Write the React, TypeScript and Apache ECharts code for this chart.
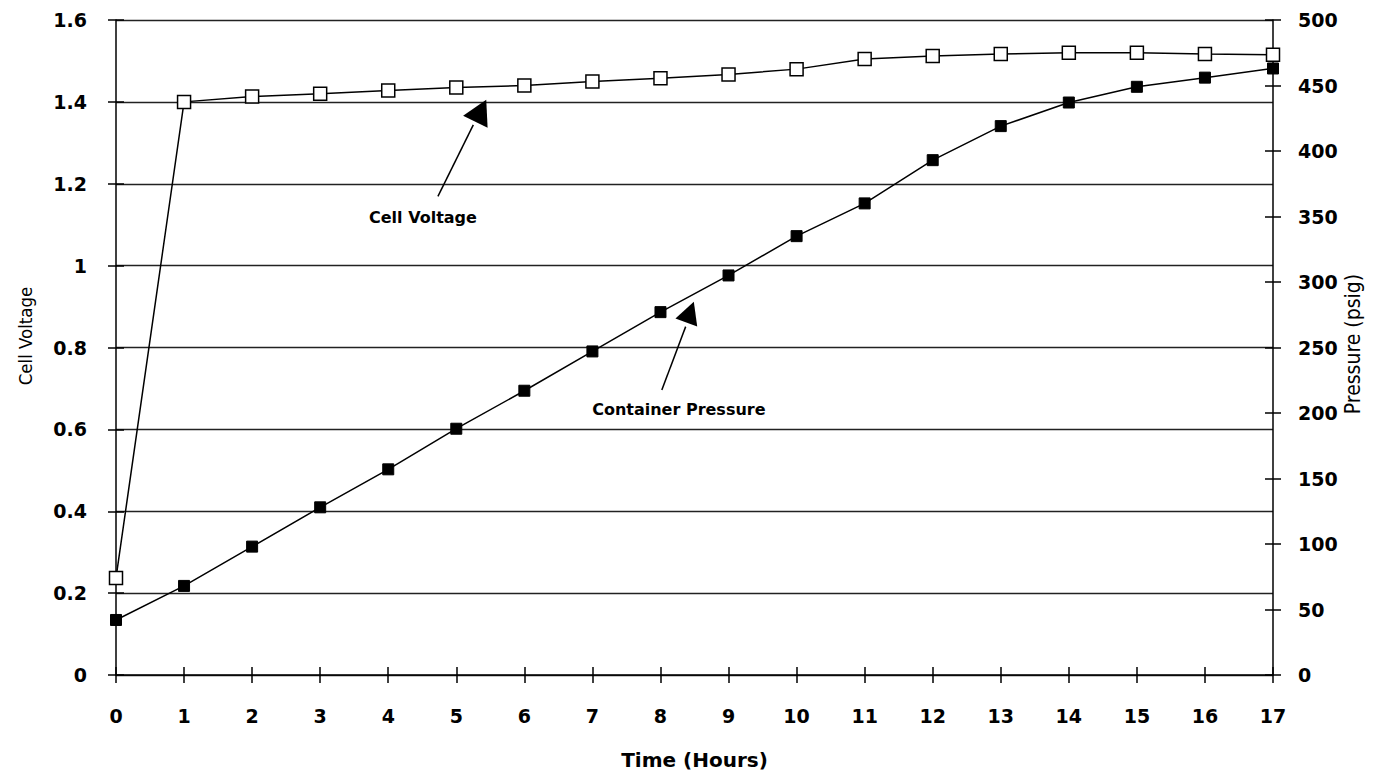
import React, { useEffect, useRef } from "react";
import * as echarts from "echarts";

const hours = [0, 1, 2, 3, 4, 5, 6, 7, 8, 9, 10, 11, 12, 13, 14, 15, 16, 17];
const cellVoltage = [0.237, 1.40, 1.413, 1.42, 1.428, 1.435, 1.44, 1.45, 1.458, 1.467, 1.48, 1.505, 1.512, 1.517, 1.52, 1.52, 1.517, 1.515];
const containerPressure = [42, 68, 98, 128, 157, 188, 217, 247, 277, 305, 335, 360, 393, 419, 437, 449, 456, 463];

const leftTitle = "Cell Voltage";
const rightTitle = "Pressure (psig)";

// annotations in data coordinates (time, cell voltage)
const voltageLabel = { text: "Cell Voltage", at: [4.51, 1.118] };
const voltageArrowLine = [[4.73, 1.169], [5.25, 1.344]];
const voltageArrowHead = [[5.44, 1.405], [5.10, 1.366], [5.46, 1.337]];
const pressureLabel = { text: "Container Pressure", at: [8.27, 0.648] };
const pressureArrowLine = [[8.02, 0.696], [8.37, 0.851]];
const pressureArrowHead = [[8.49, 0.912], [8.22, 0.871], [8.54, 0.851]];

const WIDE = "'DejaVu Sans', sans-serif";
const NARROW = "'DejaVu Sans Condensed', 'Liberation Sans Narrow', 'Liberation Sans', sans-serif";

export default function App() {
  const ref = useRef<HTMLDivElement>(null);
  useEffect(() => {
    if (!ref.current) return;
    const chart = echarts.init(ref.current, null, { renderer: "svg" });
    const tickLabel = { color: "#000", fontFamily: WIDE, fontWeight: "bold", fontSize: 19 };
    const lineStyle = { color: "#000", width: 1.5 };
    const gridBox = { left: 116, right: 112, top: 20, bottom: 104 };
    chart.setOption({
      animation: false,
      backgroundColor: "#fff",
      grid: [gridBox, gridBox],
      xAxis: [
        {
          type: "value", gridIndex: 0, min: 0, max: 17, interval: 1,
          name: "Time (Hours)", nameLocation: "middle", nameGap: 75,
          nameTextStyle: { color: "#000", fontFamily: WIDE, fontWeight: "bold", fontSize: 20 },
          axisLine: { lineStyle },
          axisTick: { show: true, length: 8, lineStyle },
          axisLabel: { ...tickLabel, margin: 31 },
          splitLine: { show: false },
        },
        {
          type: "value", gridIndex: 1, min: 0, max: 17, interval: 1, position: "bottom",
          axisLine: { show: false },
          axisTick: { show: true, inside: true, length: 8, lineStyle },
          axisLabel: { show: false },
          splitLine: { show: false },
        },
      ],
      yAxis: [
        {
          type: "value", gridIndex: 0, min: 0, max: 1.6, interval: 0.2, position: "left",
          axisLine: { show: true, lineStyle },
          axisTick: { show: true, length: 8, lineStyle },
          axisLabel: { ...tickLabel, margin: 29, formatter: (v: number) => String(Math.round(v * 10) / 10) },
          splitLine: { show: true, lineStyle: { color: "#222", width: 1.3 } },
        },
        {
          type: "value", gridIndex: 0, min: 0, max: 500, interval: 50, position: "right",
          axisLine: { show: true, lineStyle },
          axisTick: { show: true, length: 8, lineStyle },
          axisLabel: { ...tickLabel, margin: 25 },
          splitLine: { show: false },
        },
        {
          type: "value", gridIndex: 1, min: 0, max: 1.6, interval: 0.2, position: "left",
          axisLine: { show: false },
          axisTick: { show: true, inside: true, length: 8, lineStyle },
          axisLabel: { show: false },
          splitLine: { show: false },
        },
        {
          type: "value", gridIndex: 1, min: 0, max: 500, interval: 50, position: "right",
          axisLine: { show: false },
          axisTick: { show: true, inside: true, length: 8, lineStyle },
          axisLabel: { show: false },
          splitLine: { show: false },
        },
      ],
      series: [
        {
          name: "Container Pressure", type: "line", xAxisIndex: 0, yAxisIndex: 1,
          data: hours.map((h, i) => [h, containerPressure[i]]),
          symbol: "rect", symbolSize: 11,
          itemStyle: { color: "#000", borderColor: "#000", borderWidth: 1 },
          lineStyle: { color: "#000", width: 1.5 },
          z: 3,
        },
        {
          name: "Cell Voltage", type: "line", xAxisIndex: 0, yAxisIndex: 0,
          data: hours.map((h, i) => [h, cellVoltage[i]]),
          symbol: "rect", symbolSize: 13,
          itemStyle: { color: "#fff", borderColor: "#000", borderWidth: 1.5 },
          lineStyle: { color: "#000", width: 1.5 },
          z: 4,
        },
      ],
    });

    const px = (p: number[]) => chart.convertToPixel({ xAxisIndex: 0, yAxisIndex: 0 }, p) as number[];
    const textStyle = { fill: "#000", fontFamily: WIDE, fontWeight: "bold", fontSize: 16, textAlign: "center", textVerticalAlign: "middle" };
    const makeArrow = (line: number[][], head: number[][]) => [
      { type: "line", shape: { x1: px(line[0])[0], y1: px(line[0])[1], x2: px(line[1])[0], y2: px(line[1])[1] }, style: { stroke: "#000", lineWidth: 1.5 } },
      { type: "polygon", shape: { points: head.map(px) }, style: { fill: "#000" } },
    ];
    const vl = px(voltageLabel.at);
    const pl = px(pressureLabel.at);
    const titleStyle = { fill: "#000", fontFamily: NARROW, textAlign: "center", textVerticalAlign: "middle" };
    chart.setOption({
      graphic: [
        ...makeArrow(voltageArrowLine, voltageArrowHead),
        ...makeArrow(pressureArrowLine, pressureArrowHead),
        { type: "text", x: vl[0], y: vl[1], style: { ...textStyle, text: voltageLabel.text } },
        { type: "text", x: pl[0], y: pl[1], style: { ...textStyle, text: pressureLabel.text } },
        { type: "text", x: 25, y: 336, rotation: Math.PI / 2, style: { ...titleStyle, fontSize: 18.5, text: leftTitle } },
        { type: "text", x: 1353, y: 344, rotation: Math.PI / 2, style: { ...titleStyle, fontSize: 21, text: rightTitle } },
      ],
    });
    return () => chart.dispose();
  }, []);
  return <div ref={ref} style={{ width: 1385, height: 779, position: "absolute", left: 0, top: 0 }} />;
}
